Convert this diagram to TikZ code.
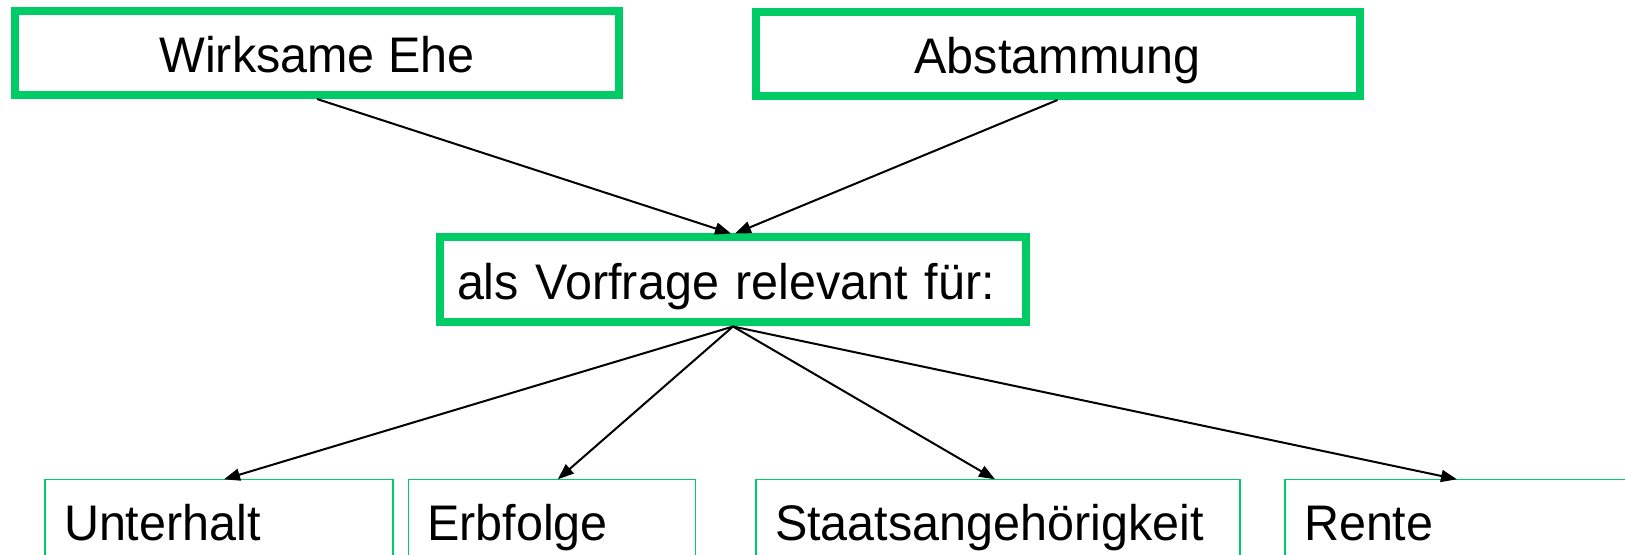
\documentclass[tikz,border=0pt]{standalone}
\usepackage{fontspec}
\setmainfont{Liberation Sans}[FakeStretch=0.97]
\usetikzlibrary{arrows.meta,calc}
\definecolor{kgreen}{RGB}{0,204,102}
\begin{document}
\fontsize{25}{29}\selectfont
\begin{tikzpicture}[x=0.5pt,y=-0.5pt,
			kopf/.style = {draw=kgreen, line width=4pt, minimum width=302pt, minimum height=42pt, inner sep=0pt, text height=19.5pt, text depth=0pt},
			frage/.style = {kopf, minimum width=293pt, minimum height=42.5pt, inner xsep=8.5pt, text width=276pt, align=left},
			fach/.style = {draw=kgreen, line width=0.75pt, anchor=north west, outer sep=0pt, inner xsep=9.5pt, inner ysep=0pt, text width=#1, align=left, text height=30.5pt, text depth=60pt},
			pfeil/.style = {-{Triangle[length=8pt,width=6pt]}, line width=1pt}]
			
			\useasboundingbox (0,0) rectangle (1625,555);
			\clip (0,0) rectangle (1625,555);
			
			\node[kopf] (ehe) at (317,53) {Wirksame Ehe};
			\node[kopf] (abst) at (1057.5,54) {Abstammung};
			\node[frage] (vor) at (733,280) {als Vorfrage relevant für:};
			\node[fach=155pt] (unt) at (45,479.3) {Unterhalt};
			\node[fach=124.5pt] (erb) at (408.3,479.3) {Erbfolge};
			\node[fach=223pt] (staat) at (756,479.3) {Staatsangehörigkeit};
			\node[fach=181pt] (rente) at (1285,479.3) {Rente};
			
			\path (ehe.south) edge [pfeil] ($(vor.north)+(-2,0)$);
			\path (abst.south) edge [pfeil] ($(vor.north)+(2,0)$);
			\path (vor.south) edge [pfeil] ($(unt.north)+(5,0)$);
			\path (vor.south) edge [pfeil] ($(erb.north)+(6,0)$);
			\path (vor.south) edge [pfeil] ($(staat.north)+(-3,0)$);
			\path (vor.south) edge [pfeil] ($(rente.north west)+(172,0)$);
			
\end{tikzpicture}
\end{document}
